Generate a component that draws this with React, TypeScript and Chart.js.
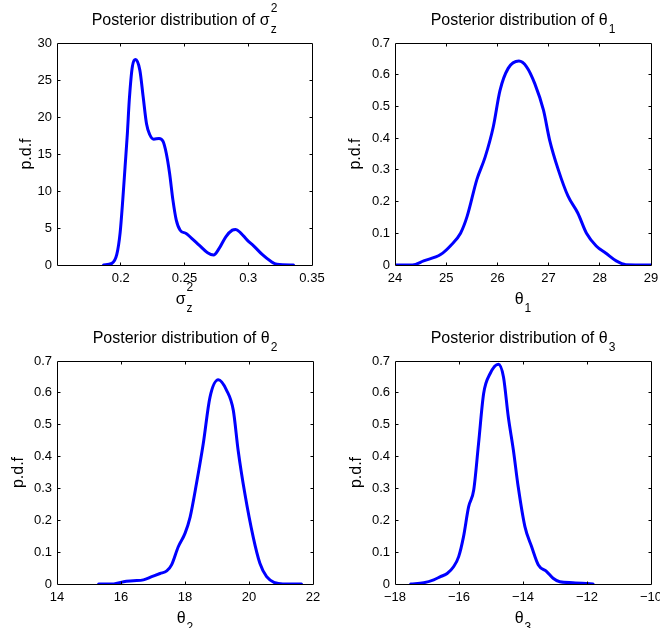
import React, { useEffect, useRef } from 'react';
import { Chart, registerables } from 'chart.js';
Chart.register(...registerables);

// ---------- data ----------
const sigmaX = [0.1865, 0.193, 0.1969, 0.1995, 0.2016, 0.2034, 0.2052, 0.2067, 0.2091, 0.2117, 0.215, 0.2176, 0.2202, 0.2228, 0.2259, 0.23, 0.2332, 0.2357, 0.2383, 0.2409, 0.2435, 0.2466, 0.2513, 0.2552, 0.2617, 0.2681, 0.2728, 0.2772, 0.2824, 0.2875, 0.2901, 0.294, 0.2992, 0.3044, 0.3109, 0.3174, 0.3225, 0.3355];
const sigmaY = [0, 0.22, 1.43, 4.35, 8.83, 13.3, 17.8, 22.3, 26.8, 27.76, 26.3, 22.7, 19.1, 17.6, 17.0, 17.1, 16.7, 15.1, 12.4, 8.8, 6.1, 4.7, 4.26, 3.68, 2.65, 1.66, 1.35, 2.24, 3.81, 4.71, 4.8, 4.35, 3.36, 2.56, 1.43, 0.54, 0.09, 0];

const theta1X = [24, 24.34, 24.56, 24.89, 25.08, 25.28, 25.41, 25.6, 25.76, 25.92, 26.05, 26.21, 26.42, 26.57, 26.73, 26.9, 27.02, 27.19, 27.38, 27.57, 27.74, 27.93, 28.12, 28.32, 28.51, 29];
const theta1Y = [0, 0, 0.013, 0.033, 0.06, 0.1, 0.154, 0.27, 0.34, 0.436, 0.55, 0.62, 0.643, 0.625, 0.572, 0.488, 0.394, 0.3, 0.217, 0.164, 0.1, 0.06, 0.037, 0.013, 0.001, 0];

const theta2X = [15.3, 15.77, 16.08, 16.39, 16.7, 16.96, 17.22, 17.43, 17.58, 17.79, 18.0, 18.16, 18.36, 18.57, 18.78, 19.04, 19.3, 19.51, 19.66, 19.87, 20.13, 20.34, 20.55, 20.81, 21.06, 21.64];
const theta2Y = [0, 0, 0.007, 0.01, 0.013, 0.023, 0.033, 0.041, 0.06, 0.117, 0.159, 0.21, 0.316, 0.44, 0.586, 0.641, 0.608, 0.545, 0.42, 0.284, 0.148, 0.065, 0.023, 0.004, 0, 0];

const theta3X = [-17.51, -17.1, -16.79, -16.58, -16.37, -16.17, -16.01, -15.86, -15.7, -15.54, -15.39, -15.23, -15.03, -14.77, -14.61, -14.46, -14.3, -14.15, -13.94, -13.73, -13.52, -13.26, -13.06, -12.85, -12.44, -11.81];
const theta3Y = [0, 0.004, 0.013, 0.023, 0.033, 0.054, 0.086, 0.148, 0.242, 0.295, 0.44, 0.598, 0.66, 0.69, 0.65, 0.525, 0.42, 0.305, 0.18, 0.117, 0.06, 0.039, 0.018, 0.007, 0.004, 0];

const yLabelText = 'p.d.f';
const titlePrefix = 'Posterior distribution of ';

// ---------- layout / style ----------
const W = 660;
const H = 628;
const FONT = "'Liberation Sans', Arial, Helvetica, sans-serif";
const Y_AXIS_W = 45;
const X_AXIS_H = 30;

type Rich = { base: string; sup?: string; sub?: string };

type Panel = {
  xs: number[];
  ys: number[];
  area: { l: number; t: number; r: number; b: number };
  xMin: number; xMax: number; xStep: number;
  yMax: number; yStep: number;
  hideX?: number;
  title: Rich;
  xlabel: Rich;
  ylabOff: number;
};

const panels: Panel[] = [
  {
    xs: sigmaX, ys: sigmaY,
    area: { l: 57, t: 43, r: 312, b: 265 },
    xMin: 0.15, xMax: 0.35, xStep: 0.05, yMax: 30, yStep: 5, hideX: 0.15,
    title: { base: titlePrefix + 'σ', sup: '2', sub: 'z' },
    xlabel: { base: 'σ', sup: '2', sub: 'z' },
    ylabOff: 26,
  },
  {
    xs: theta1X, ys: theta1Y,
    area: { l: 395, t: 43, r: 651, b: 265 },
    xMin: 24, xMax: 29, xStep: 1, yMax: 0.7, yStep: 0.1,
    title: { base: titlePrefix + 'θ', sub: '1' },
    xlabel: { base: 'θ', sub: '1' },
    ylabOff: 35,
  },
  {
    xs: theta2X, ys: theta2Y,
    area: { l: 57, t: 361, r: 313, b: 584 },
    xMin: 14, xMax: 22, xStep: 2, yMax: 0.7, yStep: 0.1,
    title: { base: titlePrefix + 'θ', sub: '2' },
    xlabel: { base: 'θ', sub: '2' },
    ylabOff: 34,
  },
  {
    xs: theta3X, ys: theta3Y,
    area: { l: 395, t: 361, r: 651, b: 584 },
    xMin: -18, xMax: -10, xStep: 2, yMax: 0.7, yStep: 0.1,
    title: { base: titlePrefix + 'θ', sub: '3' },
    xlabel: { base: 'θ', sub: '3' },
    ylabOff: 34,
  },
];

const fmt = (v: number) => String(Math.round(v * 10000) / 10000).replace('-', '\u2212');

function drawRich(ctx: CanvasRenderingContext2D, r: Rich, cx: number, baseline: number, size: number, script: number) {
  ctx.save();
  ctx.fillStyle = '#000';
  ctx.textAlign = 'left';
  ctx.textBaseline = 'alphabetic';
  ctx.font = `${size}px ${FONT}`;
  const wb = ctx.measureText(r.base).width;
  ctx.font = `${script}px ${FONT}`;
  const ws = Math.max(r.sup ? ctx.measureText(r.sup).width : 0, r.sub ? ctx.measureText(r.sub).width : 0);
  const gap = ws > 0 ? 1 : 0;
  let x = cx - (wb + gap + ws) / 2;
  ctx.font = `${size}px ${FONT}`;
  ctx.fillText(r.base, x, baseline);
  x += wb + gap;
  ctx.font = `${script}px ${FONT}`;
  if (r.sup) ctx.fillText(r.sup, x, baseline - 13);
  if (r.sub) ctx.fillText(r.sub, x, baseline + 8);
  ctx.restore();
}

const framePlugin = {
  id: 'matlabFrame',
  afterDraw(chart: any, _args: any, opts: any) {
    const ctx: CanvasRenderingContext2D = chart.ctx;
    const { left, right, top, bottom } = chart.chartArea;
    const xs = chart.scales.x;
    const ys = chart.scales.y;
    const L = Math.floor(left) + 0.5;
    const R = Math.floor(right) + 0.5;
    const T = Math.floor(top) + 0.5;
    const B = Math.floor(bottom) + 0.5;
    ctx.save();
    ctx.strokeStyle = '#000';
    ctx.lineWidth = 1;
    ctx.beginPath();
    ctx.rect(L, T, R - L, B - T);
    const tl = 3;
    xs.ticks.forEach((t: any) => {
      const p = Math.floor(xs.getPixelForValue(t.value)) + 0.5;
      if (p <= L + 1 || p >= R - 1) return;
      ctx.moveTo(p, B); ctx.lineTo(p, B - tl);
      ctx.moveTo(p, T); ctx.lineTo(p, T + tl);
    });
    ys.ticks.forEach((t: any) => {
      const p = Math.floor(ys.getPixelForValue(t.value)) + 0.5;
      if (p <= T + 1 || p >= B - 1) return;
      ctx.moveTo(L, p); ctx.lineTo(L + tl, p);
      ctx.moveTo(R, p); ctx.lineTo(R - tl, p);
    });
    ctx.stroke();
    ctx.restore();

    const cx = (left + right) / 2;
    drawRich(ctx, opts.title, cx, top - 18, 16, 12);
    drawRich(ctx, opts.xlabel, cx, bottom + 39, 16, 12);

    ctx.save();
    ctx.translate(left - opts.ylabOff, (top + bottom) / 2);
    ctx.rotate(-Math.PI / 2);
    ctx.font = `16px ${FONT}`;
    ctx.fillStyle = '#000';
    ctx.textAlign = 'center';
    ctx.textBaseline = 'alphabetic';
    ctx.fillText(yLabelText, 0, 0);
    ctx.restore();
  },
};

function makeConfig(p: Panel): any {
  return {
    type: 'line',
    data: {
      datasets: [
        {
          data: p.xs.map((x, i) => ({ x, y: p.ys[i] })),
          borderColor: '#0000ff',
          borderWidth: 3,
          pointRadius: 0,
          fill: false,
          cubicInterpolationMode: 'monotone',
          borderJoinStyle: 'round',
          borderCapStyle: 'round',
        },
      ],
    },
    options: {
      responsive: false,
      animation: false,
      devicePixelRatio: 1,
      events: [],
      layout: {
        autoPadding: false,
        padding: {
          left: p.area.l - Y_AXIS_W,
          top: p.area.t,
          right: W - p.area.r,
          bottom: H - p.area.b - X_AXIS_H,
        },
      },
      plugins: {
        legend: { display: false },
        tooltip: { enabled: false },
        title: { display: false },
        matlabFrame: { title: p.title, xlabel: p.xlabel, ylabOff: p.ylabOff },
      },
      scales: {
        x: {
          type: 'linear',
          min: p.xMin,
          max: p.xMax,
          grid: { display: false, drawTicks: false },
          border: { display: false },
          afterFit: (s: any) => { s.height = X_AXIS_H; s.paddingLeft = 0; s.paddingRight = 0; },
          ticks: {
            stepSize: p.xStep,
            autoSkip: false,
            maxRotation: 0,
            minRotation: 0,
            padding: 6,
            color: '#000',
            font: { family: FONT, size: 13 },
            callback: (v: number) => (p.hideX !== undefined && Math.abs(v - p.hideX) < 1e-9 ? '' : fmt(v)),
          },
        },
        y: {
          type: 'linear',
          min: 0,
          max: p.yMax,
          grid: { display: false, drawTicks: false },
          border: { display: false },
          afterFit: (s: any) => { s.width = Y_AXIS_W; s.paddingTop = 0; s.paddingBottom = 0; },
          ticks: {
            stepSize: p.yStep,
            autoSkip: false,
            padding: 5,
            color: '#000',
            font: { family: FONT, size: 13 },
            callback: (v: number) => fmt(v),
          },
        },
      },
    },
    plugins: [framePlugin],
  };
}

export default function App() {
  const refs = useRef<(HTMLCanvasElement | null)[]>([]);
  useEffect(() => {
    const charts = panels.map((p, i) => new Chart(refs.current[i] as HTMLCanvasElement, makeConfig(p)));
    return () => charts.forEach((c) => c.destroy());
  }, []);
  return (
    <div style={{ position: 'absolute', left: 0, top: 0, width: W, height: H, background: '#fff' }}>
      {panels.map((_, i) => (
        <canvas
          key={i}
          ref={(el) => { refs.current[i] = el; }}
          width={W}
          height={H}
          style={{ position: 'absolute', left: 0, top: 0, width: W, height: H }}
        />
      ))}
    </div>
  );
}
